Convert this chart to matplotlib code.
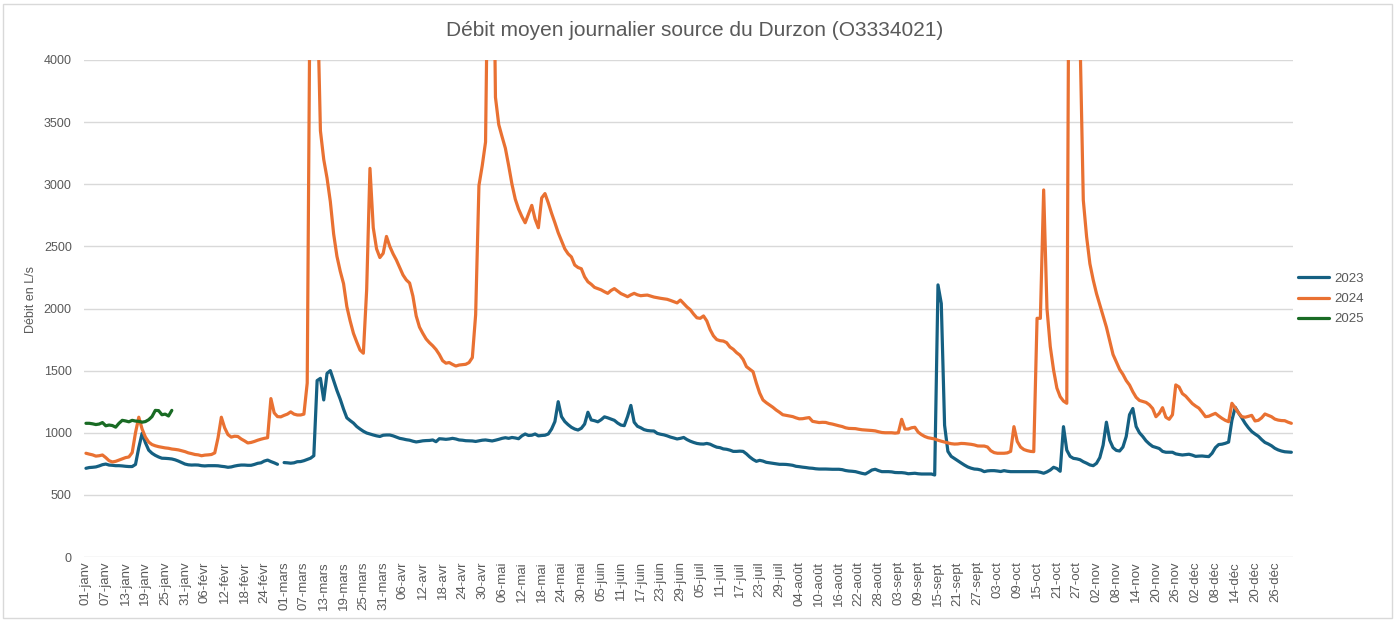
import numpy as np
import matplotlib
matplotlib.use("Agg")
import matplotlib.pyplot as plt
from matplotlib.patches import Rectangle

plt.rcParams['font.family'] = ['Liberation Sans', 'DejaVu Sans']

title = "Débit moyen journalier source du Durzon (O3334021)"
y_label = "Débit en L/s"
series_names = ["2023", "2024", "2025"]

tick_labels = [
    "01-janv", "07-janv", "13-janv", "19-janv", "25-janv", "31-janv",
    "06-févr", "12-févr", "18-févr", "24-févr",
    "01-mars", "07-mars", "13-mars", "19-mars", "25-mars", "31-mars",
    "06-avr", "12-avr", "18-avr", "24-avr", "30-avr",
    "06-mai", "12-mai", "18-mai", "24-mai", "30-mai",
    "05-juin", "11-juin", "17-juin", "23-juin", "29-juin",
    "05-juil", "11-juil", "17-juil", "23-juil", "29-juil",
    "04-août", "10-août", "16-août", "22-août", "28-août",
    "03-sept", "09-sept", "15-sept", "21-sept", "27-sept",
    "03-oct", "09-oct", "15-oct", "21-oct", "27-oct",
    "02-nov", "08-nov", "14-nov", "20-nov", "26-nov",
    "02-déc", "08-déc", "14-déc", "20-déc", "26-déc",
]

# ---- 2023 (no 29 Feb) ----
d2023_jan = [714, 720, 722, 725, 733, 743, 748, 740, 738, 735, 735, 733, 730, 728, 728, 745,
             880, 995, 920, 860, 835, 818, 805, 795, 794, 792, 789, 782, 772, 760, 748]
d2023_feb = [742, 740, 741, 740, 735, 733, 735, 735, 735, 734, 730, 727, 722, 725, 732, 737,
             740, 740, 738, 738, 745, 754, 758, 772, 780, 768, 758, 746, None]
d2023_mar = [760, 758, 755, 758, 767, 768, 775, 785, 795, 815, 1420, 1438, 1264, 1478, 1500,
             1420, 1340, 1270, 1190, 1120, 1098, 1078, 1050, 1030, 1012, 998, 990, 982, 975, 970, 980]
d2023_apr = [982, 982, 975, 965, 955, 950, 944, 940, 932, 926, 930, 935, 937, 938, 942, 928,
             952, 950, 947, 950, 955, 950, 942, 940, 936, 935, 934, 930, 935, 940]
d2023_may = [942, 938, 934, 940, 947, 955, 960, 955, 962, 958, 952, 975, 990, 978, 980, 990,
             975, 978, 980, 990, 1030, 1090, 1250, 1130, 1090, 1065, 1044, 1030, 1022, 1036, 1070]
d2023_jun = [1165, 1103, 1097, 1088, 1105, 1128, 1120, 1110, 1100, 1078, 1062, 1057, 1130, 1220,
             1085, 1052, 1040, 1025, 1018, 1015, 1014, 995, 988, 983, 975, 965, 958, 950, 955, 962]
d2023_jul = [945, 932, 922, 914, 910, 909, 914, 908, 895, 884, 880, 870, 867, 860, 850, 850,
             852, 850, 830, 805, 785, 770, 778, 772, 762, 758, 754, 750, 746, 746, 745]
d2023_aug = [742, 738, 730, 727, 723, 720, 716, 714, 710, 708, 708, 708, 707, 706, 706, 706,
             703, 696, 692, 690, 687, 680, 673, 668, 683, 700, 706, 695, 687, 687, 687]
d2023_sep = [685, 680, 679, 679, 676, 670, 672, 674, 670, 668, 668, 668, 668, 660, 2190,
             2040, 1060, 850, 810, 792, 775, 757, 740, 725, 715, 708, 706, 700, 687, 693]
d2023_oct = [695, 695, 692, 688, 695, 690, 687, 687, 687, 687, 687, 687, 687, 687, 687, 682,
             674, 685, 700, 722, 712, 690, 1049, 860, 810, 794, 790, 783, 767, 755, 741]
d2023_nov = [735, 754, 800, 900, 1085, 940, 880, 858, 853, 885, 970, 1145, 1195, 1050, 1000,
             970, 935, 910, 890, 882, 873, 850, 843, 843, 843, 830, 825, 821, 824, 827]
d2023_dec = [820, 810, 812, 813, 810, 808, 835, 880, 905, 908, 915, 925, 1100, 1205, 1160,
             1120, 1076, 1040, 1010, 990, 972, 945, 922, 910, 895, 875, 862, 853, 847, 845, 843]

# ---- 2024 ----
d2024_jan = [835, 828, 822, 812, 815, 821, 800, 775, 765, 770, 780, 790, 800, 805, 840, 1000,
             1125, 1030, 965, 925, 905, 895, 888, 883, 878, 875, 869, 866, 862, 855, 848]
d2024_feb = [838, 832, 825, 822, 815, 820, 822, 825, 838, 960, 1125, 1040, 985, 965, 972, 970,
             950, 935, 918, 922, 930, 940, 948, 955, 960, 1275, 1160, 1130, 1128]
d2024_mar = [1140, 1150, 1168, 1150, 1143, 1143, 1150, 1400, 5200, 7000, 4600, 3430, 3200, 3050,
             2860, 2600, 2420, 2300, 2200, 2015, 1900, 1800, 1730, 1665, 1640, 2150, 3128, 2650,
             2480, 2410, 2444]
d2024_apr = [2580, 2500, 2440, 2390, 2330, 2270, 2230, 2205, 2100, 1940, 1850, 1800, 1755, 1725,
             1700, 1670, 1630, 1580, 1560, 1565, 1550, 1537, 1545, 1548, 1551, 1565, 1605, 1950,
             2990, 3150]
d2024_may = [3340, 5500, 6000, 3700, 3480, 3383, 3290, 3150, 3000, 2880, 2800, 2740, 2690, 2760,
             2830, 2720, 2650, 2890, 2925, 2850, 2766, 2690, 2610, 2545, 2480, 2440, 2415, 2350,
             2330, 2320, 2255]
d2024_jun = [2215, 2195, 2170, 2160, 2150, 2135, 2122, 2145, 2160, 2140, 2120, 2108, 2095, 2110,
             2122, 2110, 2103, 2106, 2108, 2100, 2092, 2087, 2082, 2078, 2074, 2065, 2055, 2045,
             2068, 2040]
d2024_jul = [2012, 1990, 1955, 1925, 1921, 1940, 1900, 1830, 1780, 1750, 1741, 1738, 1725, 1690,
             1672, 1645, 1625, 1590, 1532, 1511, 1491, 1400, 1320, 1264, 1242, 1223, 1205, 1183,
             1165, 1145, 1140]
d2024_aug = [1135, 1130, 1120, 1112, 1113, 1118, 1122, 1092, 1087, 1082, 1084, 1083, 1075, 1070,
             1063, 1056, 1050, 1040, 1035, 1034, 1033, 1028, 1024, 1022, 1020, 1018, 1015, 1008,
             1002, 1000, 1000]
d2024_sep = [1000, 997, 1000, 1108, 1030, 1030, 1040, 1044, 1005, 985, 970, 960, 955, 950, 940,
             932, 925, 918, 912, 909, 910, 914, 913, 910, 907, 902, 894, 893, 893, 885]
d2024_oct = [855, 840, 835, 835, 835, 838, 850, 1049, 930, 885, 865, 856, 850, 848, 1921, 1921,
             2954, 2000, 1693, 1505, 1360, 1290, 1255, 1237, 7000, 9000, 6000, 4200, 2873, 2578,
             2360]
d2024_nov = [2230, 2120, 2030, 1940, 1850, 1740, 1630, 1570, 1510, 1470, 1420, 1384, 1330, 1285,
             1260, 1252, 1244, 1225, 1195, 1129, 1156, 1202, 1125, 1108, 1145, 1385, 1368, 1315,
             1295, 1265]
d2024_dec = [1235, 1215, 1198, 1165, 1129, 1133, 1145, 1156, 1135, 1116, 1100, 1089, 1237, 1200,
             1160, 1129, 1125, 1132, 1140, 1095, 1100, 1120, 1151, 1140, 1129, 1110, 1102, 1098,
             1097, 1085, 1076]

# ---- 2025 ----
d2025_jan = [1076, 1076, 1072, 1066, 1070, 1082, 1056, 1062, 1058, 1045, 1076, 1100, 1095, 1088,
             1100, 1094, 1092, 1085, 1090, 1105, 1130, 1180, 1178, 1145, 1150, 1135, 1180]

def to_arr(*months):
    vals = []
    for m in months:
        vals.extend(m)
    return np.array([np.nan if v is None else v for v in vals], dtype=float)

y2023 = to_arr(d2023_jan, d2023_feb, d2023_mar, d2023_apr, d2023_may, d2023_jun,
               d2023_jul, d2023_aug, d2023_sep, d2023_oct, d2023_nov, d2023_dec)
y2024 = to_arr(d2024_jan, d2024_feb, d2024_mar, d2024_apr, d2024_may, d2024_jun,
               d2024_jul, d2024_aug, d2024_sep, d2024_oct, d2024_nov, d2024_dec)
y2025 = to_arr(d2025_jan)

colors = ["#156082", "#E97132", "#196B24"]
text_color = "#595959"
grid_color = "#D9D9D9"

W, H = 1398, 621
fig = plt.figure(figsize=(W / 100, H / 100), dpi=100)
left, right, top, bottom = 84.3, 1293.0, 60.0, 557.0
ax = fig.add_axes([left / W, 1 - bottom / H, (right - left) / W, (bottom - top) / H])

for yv, c, name in zip([y2023, y2024, y2025], colors, series_names):
    xv = np.arange(len(yv))
    ax.plot(xv, yv, color=c, lw=2.3, label=name,
            solid_joinstyle='round', solid_capstyle='round')

ax.set_xlim(-0.5, 365.5)
ax.set_ylim(0, 4000)
ax.set_yticks(np.arange(0, 4001, 500))
ax.set_xticks(np.arange(0, 6 * len(tick_labels), 6))
ax.set_xticklabels(tick_labels, rotation=90)
ax.grid(axis='y', color=grid_color, lw=1)
ax.grid(axis='x', visible=False)
ax.set_axisbelow(True)
for s in ax.spines.values():
    s.set_visible(False)
ax.tick_params(length=0, colors=text_color, labelsize=9)
ax.tick_params(axis='x', labelsize=9.5, pad=3)
ax.tick_params(axis='y', pad=9)

fig.text(695 / W, 1 - 30 / H, title, ha='center', va='center',
         fontsize=15, color=text_color)
fig.text(31 / W, 1 - 300 / H, y_label, ha='center', va='center',
         rotation=90, fontsize=9, color=text_color)

fig.legend(loc='center left', bbox_to_anchor=(1293 / W, 1 - 299 / H),
           frameon=False, fontsize=9.5, labelcolor=text_color,
           handlelength=2.3, handletextpad=0.4, labelspacing=0.6,
           borderaxespad=0.0)

fig.patches.append(Rectangle((3 / W, 3 / H), (1392 - 3) / W, (617 - 3) / H,
                             transform=fig.transFigure, fill=False,
                             edgecolor=grid_color, lw=1))

fig.savefig("out.png", dpi=100)
